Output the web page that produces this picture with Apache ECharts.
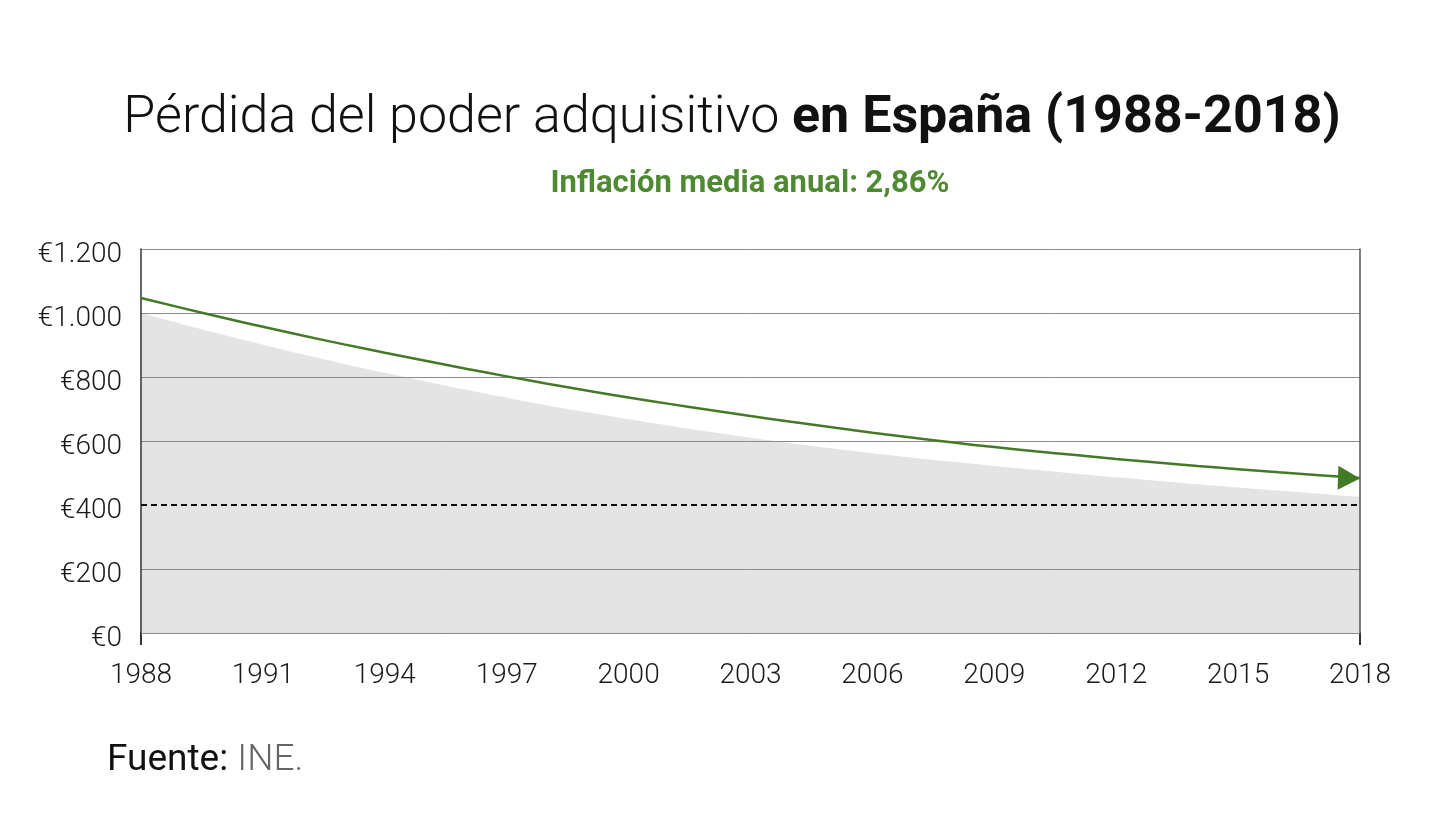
<!DOCTYPE html>
<html>
<head>
<meta charset="utf-8">
<script src="https://cdn.jsdelivr.net/npm/echarts@6/dist/echarts.min.js"></script>
<style>
html,body{margin:0;padding:0;background:#fff;}
#chart{width:1440px;height:820px;}
</style>
</head>
<body>
<div id="chart"></div>
<script>
var years = ['1988','1989','1990','1991','1992','1993','1994','1995','1996','1997','1998','1999','2000','2001','2002','2003','2004','2005','2006','2007','2008','2009','2010','2011','2012','2013','2014','2015','2016','2017','2018'];
var poderAdquisitivo = [1000, 966, 933, 901, 870, 841, 813, 786, 760, 735, 711, 689, 668, 648, 629, 610, 593, 577, 562, 548, 535, 522, 510, 498, 487, 476, 465, 455, 445, 435, 425];
var tendencia = [1047, 1016, 986, 957, 929, 902, 876, 851, 826, 802, 779, 757, 736, 716, 697, 678, 660, 643, 626, 610, 595, 581, 568, 556, 544, 533, 522, 512, 502, 493, 484];
var yTickLabels = ['€0','€200','€400','€600','€800','€1.000','€1.200'];
var referencia = 400;

var FONT = 'Roboto';
var green = '#437a26';

var lineData = tendencia.map(function (v, i) {
  if (i === tendencia.length - 1) {
    return {
      value: v,
      symbol: 'triangle',
      symbolSize: [24, 22],
      symbolRotate: -92,
      symbolOffset: [-11, 0],
      itemStyle: { color: green }
    };
  }
  return v;
});

var chart = echarts.init(document.getElementById('chart'));
chart.setOption({
  animation: false,
  backgroundColor: '#ffffff',
  graphic: [{
    type: 'text',
    x: 732, y: 119,
    style: {
      text: '{a|Pérdida del poder adquisitivo }{b|en España (1988-2018)}',
      textAlign: 'center',
      textVerticalAlign: 'middle',
      rich: {
        a: { fontFamily: FONT, fontWeight: 300, fontSize: 52, fill: '#111' },
        b: { fontFamily: FONT, fontWeight: 700, fontSize: 52, fill: '#111' }
      }
    }
  }, {
    type: 'text',
    x: 750, y: 184,
    style: {
      text: 'Inflación media anual: 2,86%',
      textAlign: 'center',
      textVerticalAlign: 'middle',
      fontFamily: FONT, fontWeight: 700, fontSize: 31, fill: '#4f8a32'
    }
  }, {
    type: 'text',
    x: 107, y: 761,
    style: {
      text: '{a|Fuente: }{b|INE.}',
      textAlign: 'left',
      textVerticalAlign: 'middle',
      rich: {
        a: { fontFamily: FONT, fontWeight: 400, fontSize: 37, fill: '#111' },
        b: { fontFamily: FONT, fontWeight: 300, fontSize: 37, fill: '#666' }
      }
    }
  }],
  grid: { left: 141, right: 80, top: 249, bottom: 187, containLabel: false },
  xAxis: {
    type: 'category',
    data: years,
    boundaryGap: false,
    axisLine: { show: true, lineStyle: { color: '#222', width: 2 } },
    axisTick: {
      show: true,
      length: 12,
      interval: function (idx) { return idx === 0 || idx === years.length - 1; },
      lineStyle: { color: '#333', width: 2 }
    },
    axisLabel: {
      interval: 2,
      margin: 29,
      fontFamily: FONT, fontWeight: 300, fontSize: 28, color: '#1a1a1a'
    },
    splitLine: { show: false }
  },
  yAxis: [{
    type: 'value',
    min: 0, max: 1200, interval: 200,
    z: 3,
    axisLine: { show: true, lineStyle: { color: '#333', width: 1.5 } },
    axisTick: { show: false },
    axisLabel: {
      margin: 19,
      fontFamily: FONT, fontWeight: 300, fontSize: 28, color: '#1a1a1a',
      formatter: function (v) { return '{v|' + yTickLabels[Math.round(v / 200)] + '}'; },
      rich: {
        v: { fontFamily: FONT, fontWeight: 300, fontSize: 28, color: '#1a1a1a', padding: [12, 0, 0, 0] }
      }
    },
    splitLine: { show: true, lineStyle: { color: ['#8a8a8a', '#8a8a8a', 'rgba(0,0,0,0)', '#8a8a8a', '#8a8a8a', '#8a8a8a', '#8a8a8a'], width: 1 } }
  }, {
    type: 'value',
    position: 'right',
    min: 0, max: 1200, interval: 200,
    z: 3,
    axisLine: { show: true, onZero: false, lineStyle: { color: '#555', width: 1.5 } },
    axisTick: { show: false },
    axisLabel: { show: false },
    splitLine: { show: false }
  }],
  series: [{
    type: 'line',
    name: 'Poder adquisitivo',
    data: poderAdquisitivo,
    z: 2,
    smooth: true,
    symbol: 'none',
    lineStyle: { width: 0 },
    areaStyle: { color: '#e4e4e4', opacity: 1 },
    silent: true
  }, {
    type: 'line',
    name: 'Tendencia',
    data: lineData,
    z: 5,
    smooth: true,
    symbol: 'none',
    showSymbol: true,
    lineStyle: { color: green, width: 2.5 },
    itemStyle: { color: green },
    silent: true,
    markLine: {
      silent: true,
      symbol: 'none',
      label: { show: false },
      lineStyle: { color: '#111', type: [6, 4], width: 2 },
      data: [{ yAxis: referencia }]
    }
  }]
});
</script>
</body>
</html>
